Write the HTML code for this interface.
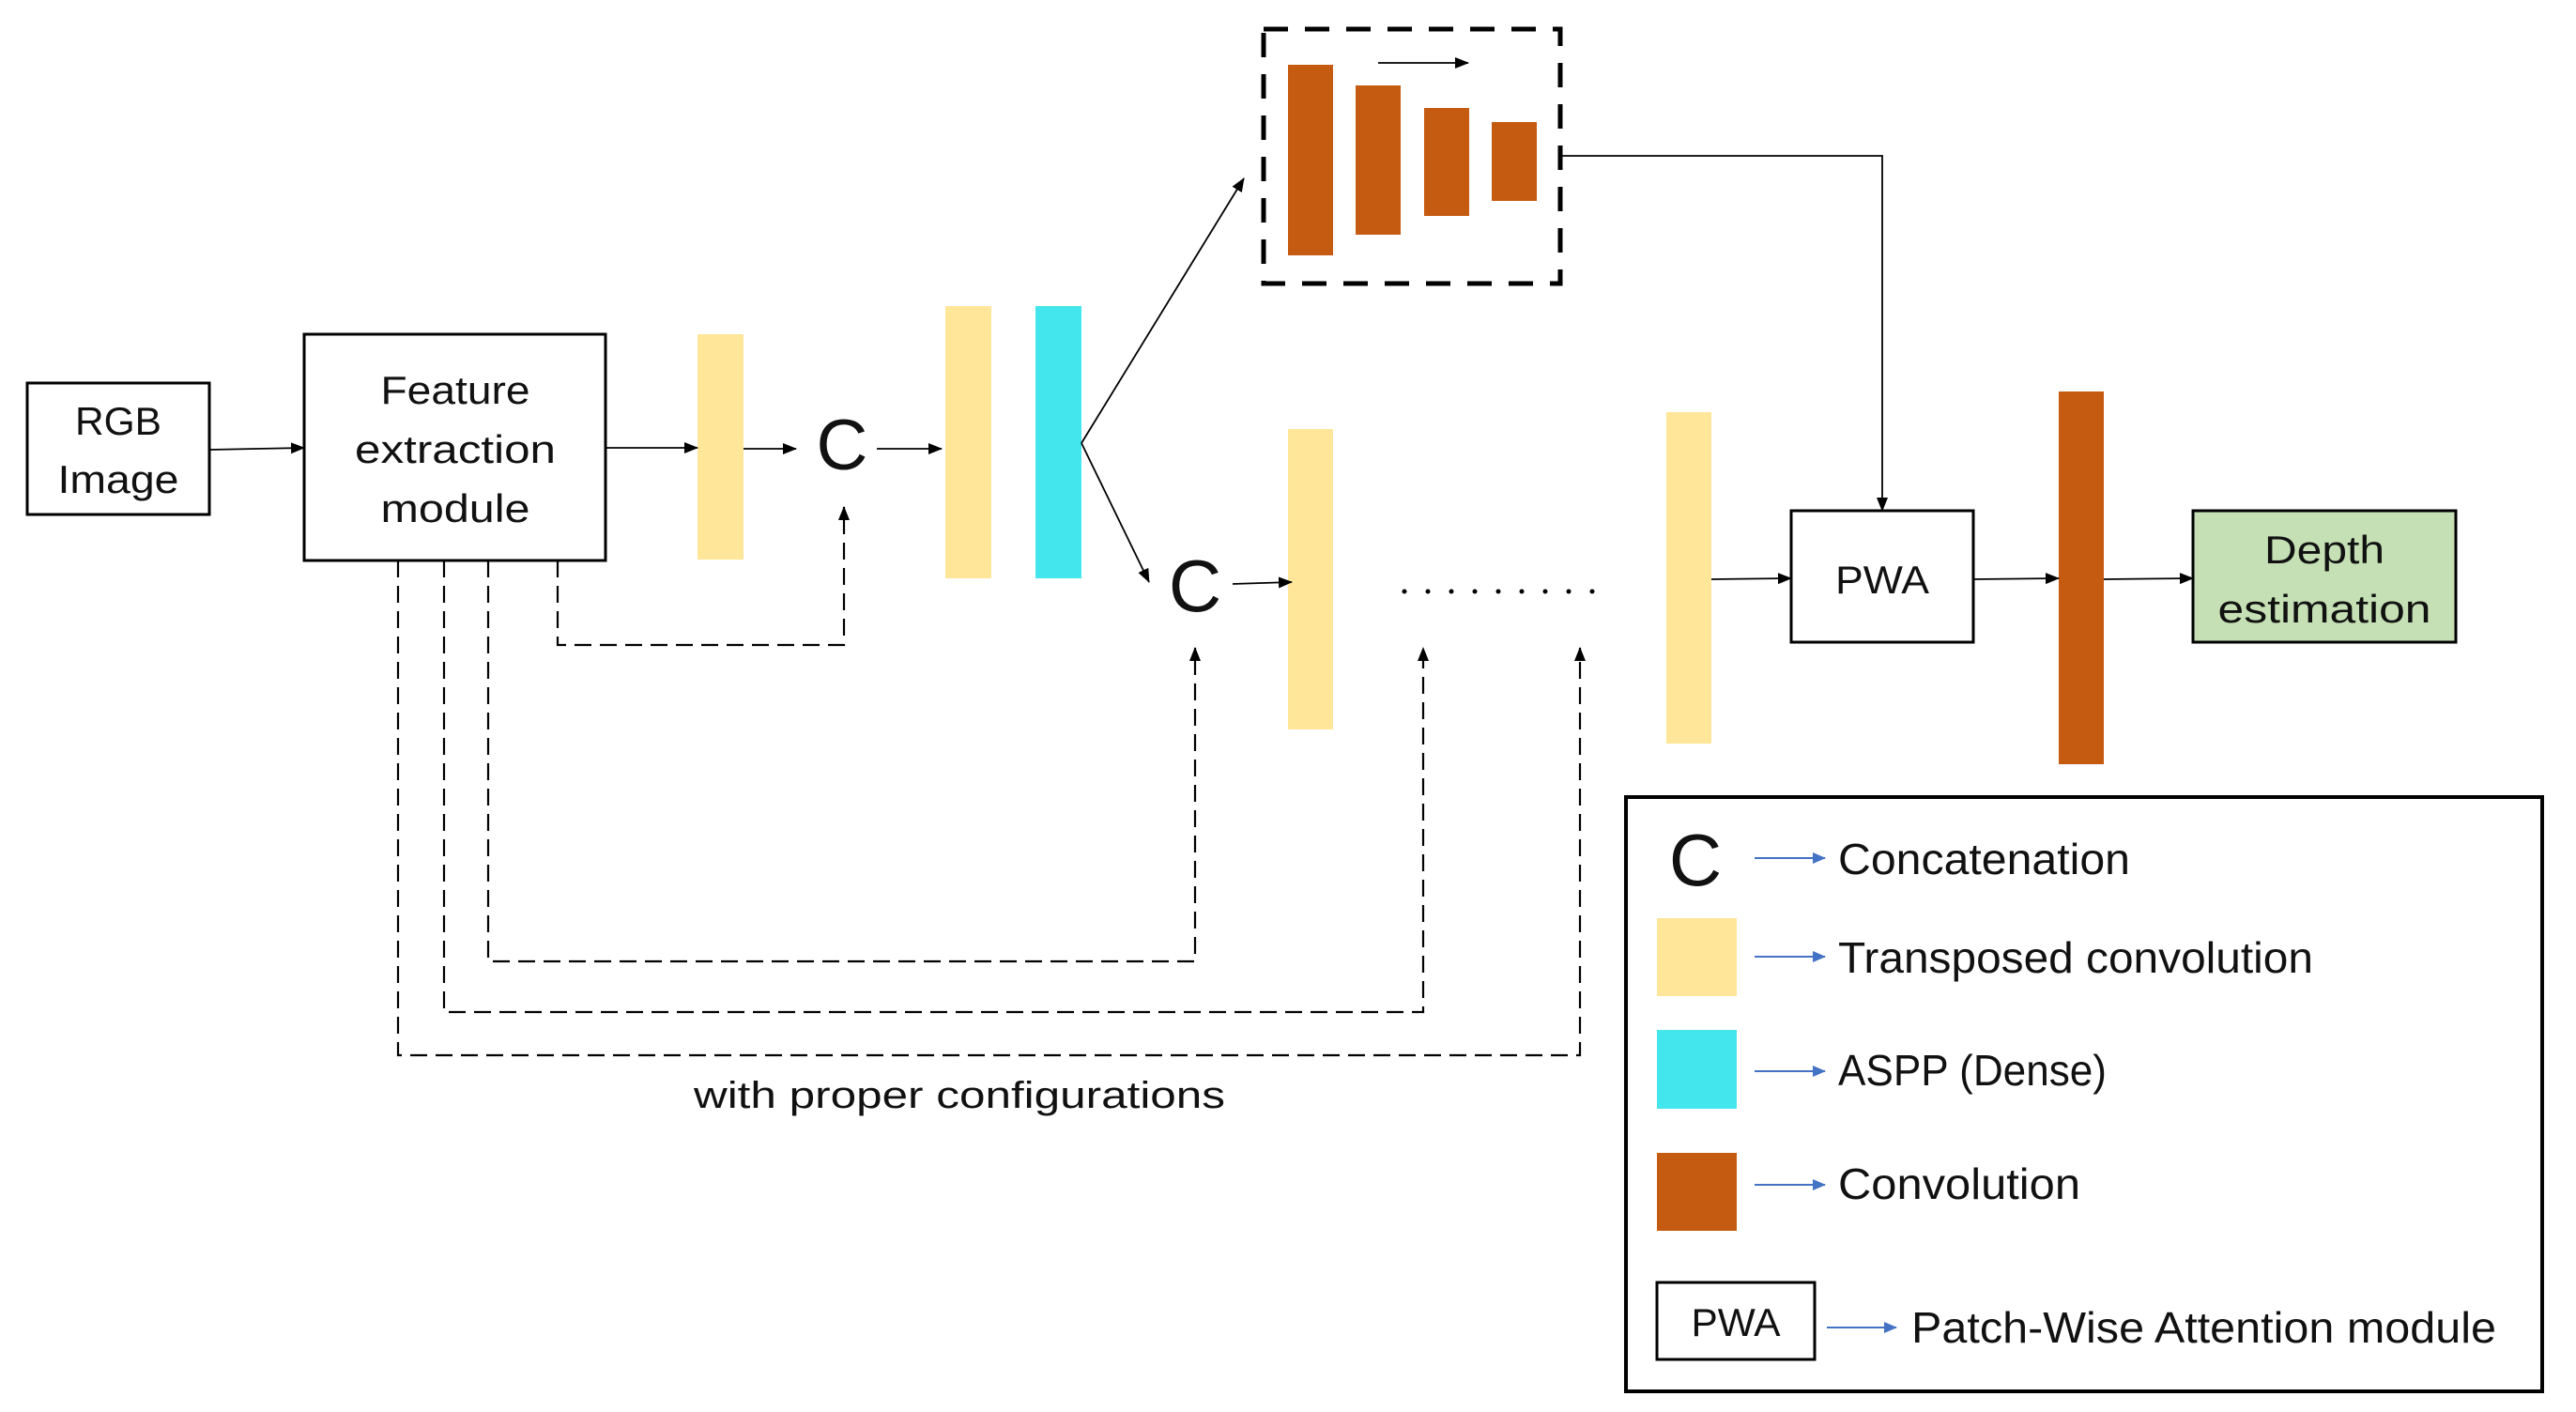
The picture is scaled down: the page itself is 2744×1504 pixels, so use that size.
<!DOCTYPE html>
<html><head><meta charset="utf-8"><style>html,body{margin:0;padding:0;background:#fff}svg{display:block}text{font-family:"Liberation Sans",sans-serif;fill:#111}</style></head>
<body>
<svg width="2744" height="1504" viewBox="0 0 2744 1504" xmlns="http://www.w3.org/2000/svg">
<defs>
<marker id="a" markerWidth="15" markerHeight="12" refX="14" refY="6" orient="auto" markerUnits="userSpaceOnUse"><path d="M0,0 L15,6 L0,12 z" fill="#000"/></marker>
<marker id="b" markerWidth="14" markerHeight="12" refX="13" refY="6" orient="auto" markerUnits="userSpaceOnUse"><path d="M0,0 L14,6 L0,12 z" fill="#4472c4"/></marker>
</defs>
<g stroke="#000" stroke-width="3" fill="none">
<rect x="29" y="408" width="194" height="140"/>
<rect x="324" y="356" width="321" height="241"/>
<rect x="1908" y="544" width="194" height="140"/>
</g>
<rect x="2336" y="544" width="280" height="140" fill="#c5e0b4" stroke="#000" stroke-width="3"/>
<g font-size="42">
<text x="126" y="463" text-anchor="middle" textLength="92" lengthAdjust="spacingAndGlyphs">RGB</text>
<text x="126" y="525" text-anchor="middle" textLength="129" lengthAdjust="spacingAndGlyphs">Image</text>
<text x="485" y="430" text-anchor="middle" textLength="159" lengthAdjust="spacingAndGlyphs">Feature</text>
<text x="485" y="493" text-anchor="middle" textLength="214" lengthAdjust="spacingAndGlyphs">extraction</text>
<text x="485" y="556" text-anchor="middle" textLength="159" lengthAdjust="spacingAndGlyphs">module</text>
<text x="2005" y="632" text-anchor="middle" textLength="100" lengthAdjust="spacingAndGlyphs">PWA</text>
<text x="2476" y="600" text-anchor="middle" textLength="128" lengthAdjust="spacingAndGlyphs">Depth</text>
<text x="2476" y="663" text-anchor="middle" textLength="227" lengthAdjust="spacingAndGlyphs">estimation</text>
</g>
<rect x="743" y="356" width="49" height="240" fill="#ffe699"/>
<rect x="1007" y="326" width="49" height="290" fill="#ffe699"/>
<rect x="1103" y="326" width="49" height="290" fill="#44e6ee"/>
<rect x="1372" y="457" width="48" height="320" fill="#ffe699"/>
<rect x="1775" y="439" width="48" height="353" fill="#ffe699"/>
<rect x="2193" y="417" width="48" height="397" fill="#c55a11"/>
<rect x="1372" y="69" width="48" height="203" fill="#c55a11"/>
<rect x="1444" y="91" width="48" height="159" fill="#c55a11"/>
<rect x="1517" y="115" width="48" height="115" fill="#c55a11"/>
<rect x="1589" y="130" width="48" height="84" fill="#c55a11"/>
<rect x="1346" y="31" width="316" height="271" fill="none" stroke="#000" stroke-width="5" stroke-dasharray="26,18"/>
<text x="897" y="500" font-size="76" text-anchor="middle">C</text>
<text x="1273" y="651" font-size="78" text-anchor="middle">C</text>
<g fill="#000">
<circle cx="1496" cy="630" r="2.5"/><circle cx="1521" cy="630" r="2.5"/><circle cx="1546" cy="630" r="2.5"/><circle cx="1571" cy="630" r="2.5"/><circle cx="1596" cy="630" r="2.5"/><circle cx="1621" cy="630" r="2.5"/><circle cx="1646" cy="630" r="2.5"/><circle cx="1671" cy="630" r="2.5"/><circle cx="1696" cy="630" r="2.5"/>
</g>
<g stroke="#000" stroke-width="1.8" fill="none" marker-end="url(#a)">
<line x1="223" y1="479" x2="324" y2="477"/>
<line x1="645" y1="477" x2="743" y2="477"/>
<line x1="792" y1="478" x2="848" y2="478"/>
<line x1="934" y1="478" x2="1003" y2="478"/>
<line x1="1152" y1="472" x2="1325" y2="190"/>
<line x1="1152" y1="472" x2="1224" y2="620"/>
<line x1="1468" y1="67" x2="1564" y2="67"/>
<polyline points="1662,166 2005,166 2005,544"/>
<line x1="1313" y1="622" x2="1376" y2="620"/>
<line x1="1823" y1="617" x2="1908" y2="616"/>
<line x1="2102" y1="617" x2="2193" y2="616"/>
<line x1="2241" y1="617" x2="2336" y2="616"/>
</g>
<g stroke="#000" stroke-width="2.2" fill="none" stroke-dasharray="18,9" marker-end="url(#a)">
<polyline points="594,597 594,687 899,687 899,540"/>
<polyline points="520,597 520,1024 1273,1024 1273,690"/>
<polyline points="473,597 473,1078 1516,1078 1516,690"/>
<polyline points="424,597 424,1124 1683,1124 1683,690"/>
</g>
<text x="739" y="1180" font-size="40" textLength="566" lengthAdjust="spacingAndGlyphs">with proper configurations</text>
<rect x="1732" y="849" width="976" height="633" fill="none" stroke="#000" stroke-width="4"/>
<text x="1806" y="943" font-size="78" text-anchor="middle">C</text>
<rect x="1765" y="978" width="85" height="83" fill="#ffe699"/>
<rect x="1765" y="1097" width="85" height="84" fill="#44e6ee"/>
<rect x="1765" y="1228" width="85" height="83" fill="#c55a11"/>
<rect x="1765" y="1366" width="168" height="82" fill="none" stroke="#000" stroke-width="3"/>
<text x="1849" y="1423" font-size="42" text-anchor="middle" textLength="95" lengthAdjust="spacingAndGlyphs">PWA</text>
<g stroke="#4472c4" stroke-width="2" marker-end="url(#b)">
<line x1="1869" y1="914" x2="1944" y2="914"/>
<line x1="1869" y1="1019" x2="1944" y2="1019"/>
<line x1="1869" y1="1141" x2="1944" y2="1141"/>
<line x1="1869" y1="1262" x2="1944" y2="1262"/>
<line x1="1946" y1="1414" x2="2020" y2="1414"/>
</g>
<g font-size="46">
<text x="1958" y="931" textLength="311" lengthAdjust="spacingAndGlyphs">Concatenation</text>
<text x="1958" y="1036" textLength="506" lengthAdjust="spacingAndGlyphs">Transposed convolution</text>
<text x="1958" y="1156" textLength="286" lengthAdjust="spacingAndGlyphs">ASPP (Dense)</text>
<text x="1958" y="1277" textLength="258" lengthAdjust="spacingAndGlyphs">Convolution</text>
<text x="2036" y="1430" textLength="623" lengthAdjust="spacingAndGlyphs">Patch-Wise Attention module</text>
</g>
</svg>
</body></html>
